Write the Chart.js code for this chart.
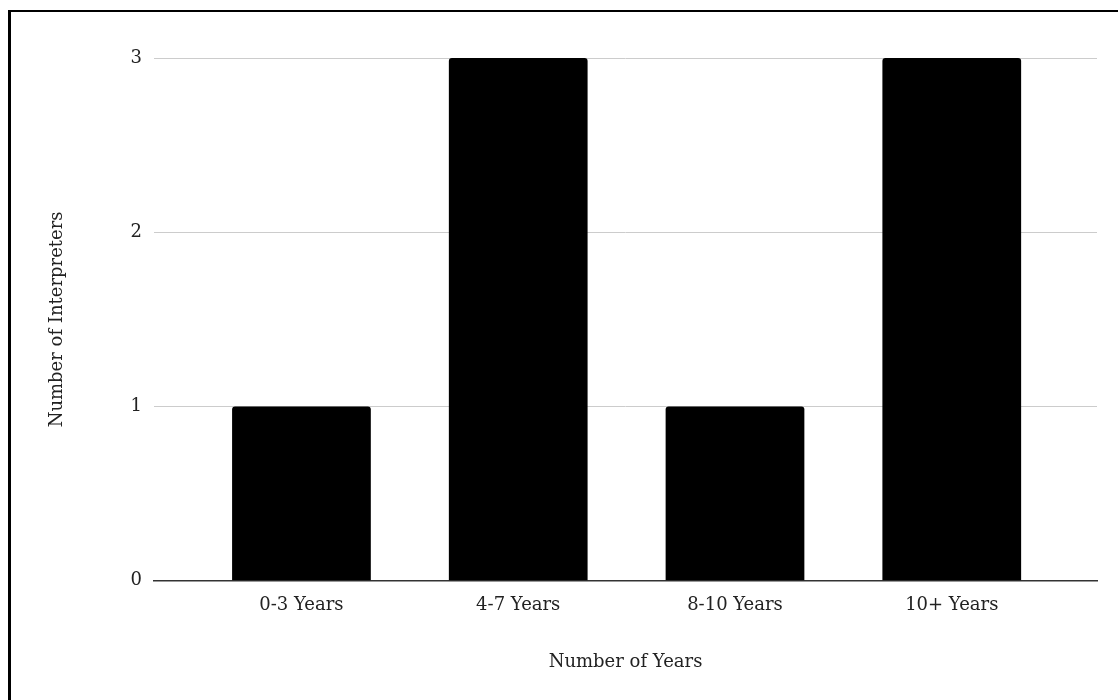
<!DOCTYPE html>
<html>
<head>
<meta charset="utf-8">
<script src="https://cdn.jsdelivr.net/npm/chart.js@4"></script>
<style>
  html, body { margin: 0; padding: 0; background: #fff; }
  .wrap { position: relative; width: 1118px; height: 700px; overflow: hidden; }
  .frame { position: absolute; left: 8px; top: 10px; width: 1200px; height: 800px;
           border-left: 3px solid #000; border-top: 2px solid #000; box-sizing: border-box; }
  canvas { position: absolute; left: 0; top: 0; }
</style>
</head>
<body>
<div class="wrap">
  <div class="frame"></div>
  <canvas id="chart-1" width="1118" height="700"></canvas>
</div>
<script>
// data
const categories = ["0-3 Years", "4-7 Years", "8-10 Years", "10+ Years"];
const interpreters = [1, 3, 1, 3];
const yTicks = [0, 1, 2, 3];

const fontFam = "Georgia, 'DejaVu Serif', serif";

const points = [];
for (let i = 0; i < categories.length; i++) {
    points.push({ x: i, y: interpreters[i] });
}

const chartOne = document.getElementById("chart-1");

new Chart(chartOne, {
    type: 'bar',
    data: {
        datasets: [{
            data: points,
            backgroundColor: '#000',
            borderRadius: 3,
            barPercentage: 0.64,
            categoryPercentage: 1
        }]
    },
    options: {
        responsive: false,
        animation: false,
        layout: { padding: { left: 43, right: 21, top: 58, bottom: 23 } },
        plugins: { legend: { display: false }, tooltip: { enabled: false } },
        scales: {
            x: {
                type: 'linear',
                offset: false,
                min: -0.68,
                max: 3.67,
                afterBuildTicks: function(axis) {
                    axis.ticks = categories.map((c, i) => ({ value: i }));
                },
                ticks: {
                    color: '#222',
                    font: { family: fontFam, size: 18 },
                    padding: 6,
                    maxRotation: 0,
                    autoSkip: false,
                    callback: function(v) { return categories[v]; }
                },
                grid: { display: false, offset: false },
                border: { display: true, color: '#333', width: 1.5 },
                title: {
                    display: true,
                    text: 'Number of Years',
                    color: '#222',
                    font: { family: fontFam, size: 18 },
                    padding: { top: 29 }
                }
            },
            y: {
                min: 0,
                max: 3,
                afterBuildTicks: function(axis) {
                    axis.ticks = yTicks.map(v => ({ value: v }));
                },
                ticks: {
                    color: '#222',
                    font: { family: fontFam, size: 18 },
                    padding: 12
                },
                grid: { color: '#cccccc', lineWidth: 1, drawTicks: false },
                border: { display: false },
                title: {
                    display: true,
                    text: 'Number of Interpreters',
                    color: '#222',
                    font: { family: fontFam, size: 18 },
                    padding: { bottom: 50 }
                }
            }
        }
    }
});
</script>
</body>
</html>
